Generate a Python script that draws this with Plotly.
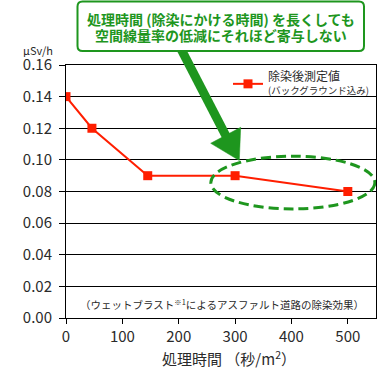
import plotly.graph_objects as go

# ---- data ----
time_s = [0, 46, 145, 300, 500]
dose = [0.14, 0.12, 0.09, 0.09, 0.08]
x_ticks = [0, 100, 200, 300, 400, 500]
y_ticks = [0.00, 0.02, 0.04, 0.06, 0.08, 0.10, 0.12, 0.14, 0.16]
series_name = "除染後測定値"
series_note = "(バックグラウンド込み)"

W, H = 379, 371
ML, MR, MT, MB = 66, 3, 65, 53
PW, PH = W - ML - MR, H - MT - MB

def px(x):
    return (x - ML) / PW

def py(y):
    return (H - MB - y) / PH

FONT = "Noto Sans CJK JP"
GREEN = "#1e961e"
RED = "#ff1e00"
TXT = "#2a2a2a"

fig = go.Figure()
fig.add_trace(go.Scatter(
    x=time_s, y=dose, mode="lines+markers",
    name=f"<span style='font-size:12px'>{series_name}</span><br>{series_note}",
    line=dict(color=RED, width=2),
    marker=dict(symbol="square", size=9, color=RED),
))

shapes = []
# dashed ellipse
shapes.append(dict(type="circle", xref="x", yref="y", x0=257, x1=548, y0=0.069, y1=0.1023,
                   line=dict(color=GREEN, width=3, dash="10px,5px"), layer="above"))
# arrow shaft
shapes.append(dict(type="line", xref="paper", yref="paper",
                   x0=px(181), y0=py(49), x1=px(226), y1=py(136),
                   line=dict(color=GREEN, width=9), layer="above"))
# arrow head
head = [(210.7, 143.3), (240.7, 127.3), (239.3, 160.5)]
path = "M " + " L ".join(f"{px(a):.5f},{py(b):.5f}" for a, b in head) + " Z"
shapes.append(dict(type="path", xref="paper", yref="paper", path=path,
                   fillcolor=GREEN, line=dict(color=GREEN, width=0.5), layer="above"))
# rounded callout box
x0, x1, y0, y1, r = 77.5, 364, 1.5, 51, 5
pts = (f"M {px(x0+r)},{py(y0)} L {px(x1-r)},{py(y0)} Q {px(x1)},{py(y0)} {px(x1)},{py(y0+r)} "
       f"L {px(x1)},{py(y1-r)} Q {px(x1)},{py(y1)} {px(x1-r)},{py(y1)} "
       f"L {px(x0+r)},{py(y1)} Q {px(x0)},{py(y1)} {px(x0)},{py(y1-r)} "
       f"L {px(x0)},{py(y0+r)} Q {px(x0)},{py(y0)} {px(x0+r)},{py(y0)} Z")
shapes.append(dict(type="path", xref="paper", yref="paper", path=pts,
                   fillcolor="white", line=dict(color=GREEN, width=2), layer="above"))

callout_font = dict(family=FONT, size=14, color=GREEN, weight="bold")
annotations = [
    dict(xref="paper", yref="paper", x=px(221), y=py(19), showarrow=False,
         text="処理時間 (除染にかける時間) を長くしても",
         font=callout_font, xanchor="center", yanchor="middle"),
    dict(xref="paper", yref="paper", x=px(221), y=py(34.5), showarrow=False,
         text="空間線量率の低減にそれほど寄与しない",
         font=callout_font, xanchor="center", yanchor="middle"),
    dict(xref="paper", yref="paper", x=px(38), y=py(50), showarrow=False,
         text="μSv/h", font=dict(family=FONT, size=11, color=TXT),
         xanchor="center", yanchor="middle"),
    dict(xref="paper", yref="paper", x=px(229), y=py(358), showarrow=False,
         text="処理時間 （秒/m<sup>2</sup>）", font=dict(family=FONT, size=15, color=TXT),
         xanchor="center", yanchor="middle"),
    dict(xref="paper", yref="paper", x=px(221.5), y=py(304), showarrow=False,
         text=f"（ウェットブラスト<sup><span style='color:{TXT}'>※1</span></sup>によるアスファルト道路の除染効果）",
         font=dict(family=FONT, size=10.5, color=TXT),
         xanchor="center", yanchor="middle"),
]

fig.update_layout(
    width=W, height=H, margin=dict(l=ML, r=MR, t=MT, b=MB),
    paper_bgcolor="white", plot_bgcolor="white",
    font=dict(family=FONT, color=TXT),
    shapes=shapes, annotations=annotations,
    showlegend=True,
    legend=dict(x=px(228), y=py(65), xanchor="left", yanchor="top",
                bgcolor="rgba(0,0,0,0)", font=dict(family=FONT, size=9.5, color=TXT),
                itemwidth=30),
    xaxis=dict(range=[0, 550], tickvals=x_ticks, ticks="outside", ticklen=5,
               tickcolor="black", showline=True, linecolor="black", linewidth=1,
               mirror=True, showgrid=False, zeroline=False,
               tickfont=dict(family=FONT, size=15, color=TXT)),
    yaxis=dict(range=[0, 0.16], tickvals=y_ticks, tickformat=".2f", ticks="outside",
               ticklen=6, tickcolor="black", showline=True, linecolor="black", linewidth=1,
               mirror=True, showgrid=True, gridcolor="black", gridwidth=1, zeroline=False,
               tickfont=dict(family=FONT, size=15, color=TXT), ticklabelstandoff=4),
)

fig.write_html("out.html", config={"displayModeBar": False},
               post_script="document.body.style.margin='0';document.body.style.padding='0';")
